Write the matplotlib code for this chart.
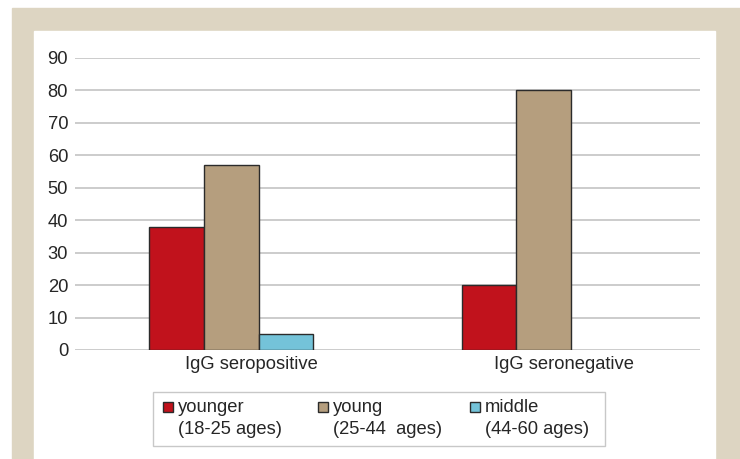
import numpy as np
import matplotlib
matplotlib.use('Agg')
import matplotlib.pyplot as plt
import matplotlib.patches as mpatches

plt.rcParams['font.family'] = ['Liberation Sans', 'DejaVu Sans']

# data
groups = ['IgG seropositive', 'IgG seronegative']
series = ['younger', 'young', 'middle']
ages = ['(18-25 ages)', '(25-44  ages)', '(44-60 ages)']
younger = [38, 20]
young = [57, 80]
middle = [5, 0]
colors = ['#c1121c', '#b59e7e', '#74c3d9']
yticks = [0, 10, 20, 30, 40, 50, 60, 70, 80, 90]

W, H = 740, 459
fs = 13.2
fig = plt.figure(figsize=(W / 100, H / 100), dpi=100)
fig.patch.set_facecolor('white')

# beige frame with white panel
fig.patches.append(mpatches.Rectangle((12 / W, 0), 1 - 12 / W, 1 - 8 / H,
                                      transform=fig.transFigure, color='#ddd5c2', zorder=-10))
fig.patches.append(mpatches.Rectangle((34 / W, 0), (715 - 34) / W, 1 - 31 / H,
                                      transform=fig.transFigure, color='white', zorder=-9))

ax = fig.add_axes([75 / W, 1 - 350 / H, (700 - 75) / W, (350 - 58) / H])
ax.set_facecolor('none')

x = np.arange(len(groups))
w = 0.175
for i, (vals, c) in enumerate(zip([younger, young, middle], colors)):
    lws = [1.0 if v > 0 else 0 for v in vals]
    ax.bar(x + (i - 1) * w, vals, w, color=c, edgecolor='#2b2b2b', linewidth=lws, zorder=3)

ax.set_xlim(-0.5, 1.5)
ax.set_ylim(0, 90)
ax.set_yticks(yticks)
ax.yaxis.grid(True, color='#c4c4c4', linewidth=1.2, zorder=0)
ax.set_axisbelow(True)
for s in ax.spines.values():
    s.set_visible(False)
ax.tick_params(axis='y', length=0, pad=5, labelsize=fs, labelcolor='#262626')
ax.set_xticks([])
for xi, g in zip(x, groups):
    ax.text(xi + 0.064, -4.6, g, ha='center', va='center', fontsize=fs, color='#262626')

# legend drawn by hand
fig.patches.append(mpatches.Rectangle((153 / W, 1 - 446 / H), (605 - 153) / W, (446 - 392) / H,
                                      transform=fig.transFigure, facecolor='white',
                                      edgecolor='#c8c8c8', linewidth=1.0))
sq_x = [163, 318, 470]
for sx, name, age, c in zip(sq_x, series, ages, colors):
    fig.patches.append(mpatches.Rectangle((sx / W, 1 - 412 / H), 10 / W, 10 / H,
                                          transform=fig.transFigure, facecolor=c,
                                          edgecolor='#2b2b2b', linewidth=1.0))
    fig.text((sx + 15) / W, 1 - 407 / H, name, ha='left', va='center',
             fontsize=fs, color='#262626')
    fig.text((sx + 15) / W, 1 - 429 / H, age, ha='left', va='center',
             fontsize=fs, color='#262626')

fig.savefig('out.png', dpi=100)
